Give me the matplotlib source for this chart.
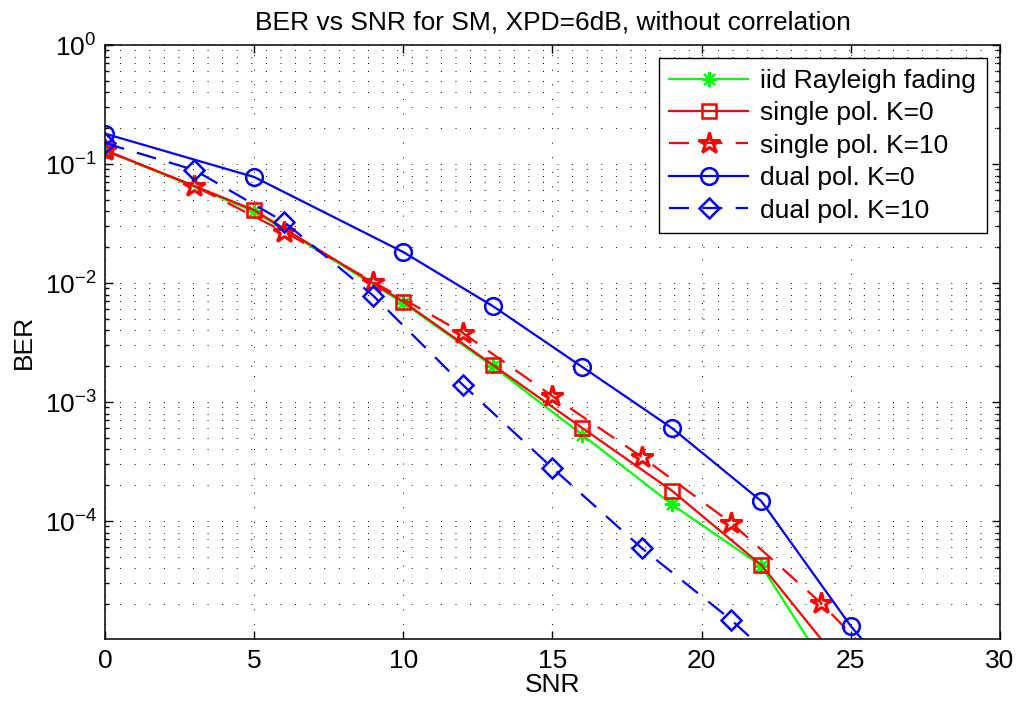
import numpy as np
import matplotlib.pyplot as plt
from matplotlib.ticker import LogLocator, NullFormatter, MultipleLocator

plt.rcParams['font.family'] = ['Liberation Sans', 'DejaVu Sans']
plt.rcParams['mathtext.fontset'] = 'custom'
plt.rcParams['mathtext.rm'] = 'Liberation Sans'
plt.rcParams['mathtext.it'] = 'Liberation Sans:italic'
plt.rcParams['mathtext.bf'] = 'Liberation Sans:bold'

# 数据
snr_a = [0, 5, 10, 13, 16, 19, 22, 25]
ber_iid = [0.13, 0.040, 6.8e-3, 2.0e-3, 5.3e-4, 1.38e-4, 4.2e-5, 2.8e-6]
ber_single_k0 = [0.131, 0.041, 6.97e-3, 2.05e-3, 6.05e-4, 1.8e-4, 4.27e-5, 5.0e-6]

snr_dual_k0 = [0, 5, 10, 13, 16, 19, 22, 25, 28]
ber_dual_k0 = [0.18, 0.0778, 0.0182, 6.4e-3, 1.97e-3, 6.05e-4, 1.47e-4, 1.31e-5, 1.7e-6]

snr_b = [0, 3, 6, 9, 12, 15, 18, 21, 24, 27]
ber_single_k10 = [0.13, 0.0653, 0.027, 0.0102, 3.8e-3, 1.12e-3, 3.45e-4, 9.6e-5, 2.05e-5, 3.4e-6]

snr_dual_k10 = [0, 3, 6, 9, 12, 15, 18, 21, 24]
ber_dual_k10 = [0.15, 0.089, 0.0327, 7.8e-3, 1.39e-3, 2.79e-4, 5.9e-5, 1.47e-5, 3.0e-6]

labels = ['iid Rayleigh fading', 'single pol. K=0', 'single pol. K=10',
          'dual pol. K=0', 'dual pol. K=10']

fs = 19
lw = 1.6
dash = (0, (9, 6))

fig = plt.figure(figsize=(10.18, 7.09), dpi=100)
ax = fig.add_axes([0.1031, 0.0987, 0.8792, 0.8378])

ax.semilogy(snr_a, ber_iid, color='#00ff00', lw=lw, marker=(8, 2, 0), ms=11,
            mew=1.5, label=labels[0])
ax.semilogy(snr_a, ber_single_k0, color='red', lw=lw, marker='s', ms=10,
            mfc='none', mew=1.8, label=labels[1])
ax.semilogy(snr_b, ber_single_k10, color='red', lw=lw, ls=dash, marker='*', ms=16,
            mfc='none', mew=2.2, label=labels[2])
ax.semilogy(snr_dual_k0, ber_dual_k0, color='blue', lw=lw, marker='o', ms=12,
            mfc='none', mew=1.8, label=labels[3])
ax.semilogy(snr_dual_k10, ber_dual_k10, color='blue', lw=lw, ls=dash, marker='D', ms=10,
            mfc='none', mew=1.8, label=labels[4])

ax.set_xlim(0, 30)
ax.set_ylim(1.02e-5, 1)
ax.xaxis.set_major_locator(MultipleLocator(5))
ax.yaxis.set_major_locator(LogLocator(base=10, numticks=10))
ax.yaxis.set_minor_locator(LogLocator(base=10, subs=np.arange(2, 10), numticks=20))
ax.yaxis.set_minor_formatter(NullFormatter())

# MATLAB 风格的点状网格
grid_style = dict(color='black', lw=0.7, ls=(0, (1, 14)))
ax.grid(True, which='major', axis='both', **grid_style)
ax.grid(True, which='minor', axis='y', **grid_style)

ax.tick_params(which='both', direction='in', top=True, right=True, labelsize=fs, width=1)
ax.tick_params(which='major', length=6)
ax.tick_params(which='minor', length=3)
ax.tick_params(axis='x', pad=7)
ax.tick_params(axis='y', pad=6)
for sp in ax.spines.values():
    sp.set_linewidth(1.1)

ax.set_xlabel('SNR', fontsize=fs, labelpad=0)
ax.set_ylabel('BER', fontsize=fs, labelpad=6)
ax.set_title('BER vs SNR for SM, XPD=6dB, without correlation', fontsize=fs, pad=11)

leg = ax.legend(loc='upper right', fontsize=fs, fancybox=False, edgecolor='black',
                framealpha=1, handlelength=3.0, handletextpad=0.45,
                labelspacing=0.32, borderaxespad=0.5, borderpad=0.4)
leg.get_frame().set_linewidth(1.0)

fig.savefig('out.png', dpi=100)
